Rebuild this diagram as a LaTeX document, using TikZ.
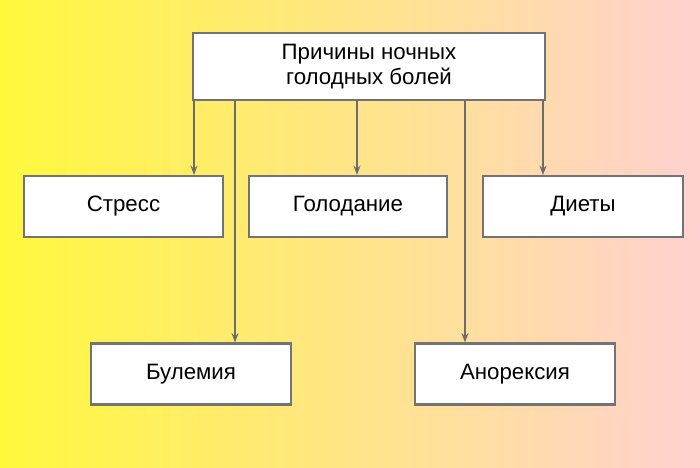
\documentclass[tikz,border=0pt]{standalone}
\usepackage{fontspec}
\setmainfont{Liberation Sans}
\usetikzlibrary{arrows.meta}
\begin{document}
\begin{tikzpicture}[x=0.03cm,y=-0.03cm,
  box/.style={draw=gray!90!black,line width=1.8pt,fill=white,minimum height=1.83cm,inner sep=0pt,align=center,font=\fontsize{19}{22}\selectfont},
  conn/.style={draw=gray!85!black,line width=1.2pt,-{Stealth[length=8pt,width=6pt]}}]
\shade[left color=yellow!75!white!95!orange, middle color=orange!35!yellow!45!white, right color=pink!80!red!45!white] (0,0) rectangle (700,467);
\useasboundingbox (0,0) rectangle (700,467);
\node[box,minimum width=352*0.03cm,minimum height=67*0.03cm] (top) at (369,66.5) {Причины ночных\\голодных болей};
\node[box,minimum width=199*0.03cm] (s) at (123.5,206.5) {Стресс};
\node[box,minimum width=198*0.03cm] (g) at (348,206.5) {Голодание};
\node[box,minimum width=200*0.03cm] (d) at (583,206.5) {Диеты};
\node[box,minimum width=200*0.03cm] (b) at (191,374) {Булемия};
\node[box,minimum width=200*0.03cm] (a) at (515,374) {Анорексия};
\coordinate (c1) at (194,100);
\coordinate (c2) at (235,100);
\coordinate (c3) at (357,100);
\coordinate (c4) at (465,100);
\coordinate (c5) at (543,100);
\draw[conn] (c1) -- (c1 |- s.north);
\draw[conn] (c2) -- (c2 |- b.north);
\draw[conn] (c3) -- (c3 |- g.north);
\draw[conn] (c4) -- (c4 |- a.north);
\draw[conn] (c5) -- (c5 |- d.north);
\end{tikzpicture}
\end{document}
